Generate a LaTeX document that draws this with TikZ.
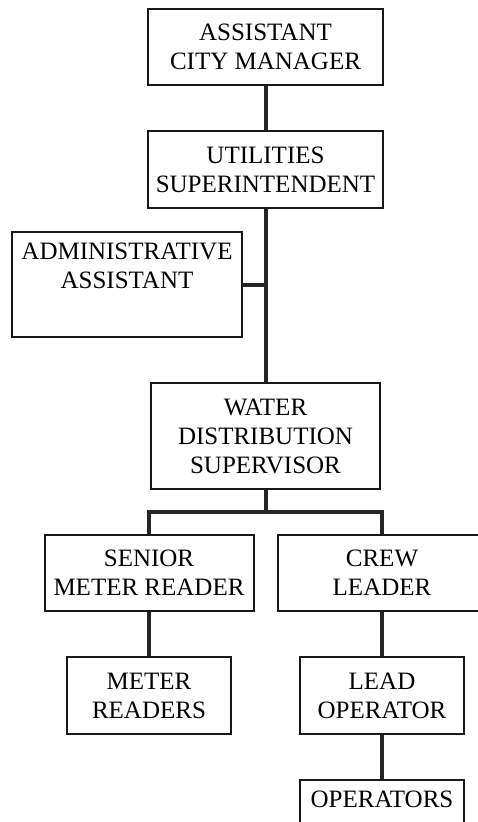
\documentclass[tikz,border=0pt]{standalone}
\usepackage{fontspec}
\setmainfont{Liberation Serif}
\begin{document}
\begin{tikzpicture}[x=1pt,y=-1pt,
  post/.style={draw=black!90,line width=2pt,align=center,inner sep=0pt,
    font=\fontsize{25}{29}\selectfont},
  link/.style={draw=black!85,line width=4pt}]
\useasboundingbox (0,0) rectangle (478,822);
\clip (0,0) rectangle (478,822);

% positions
\node[post,minimum width=235pt,minimum height=76pt] (acm) at (265.5,47) {ASSISTANT\\CITY MANAGER};
\node[post,minimum width=235pt,minimum height=77pt] (us) at (265.5,169.5) {UTILITIES\\SUPERINTENDENT};
\node[post,minimum width=230pt,minimum height=105pt] (adm) at (127,284.5) {ADMINISTRATIVE\\ASSISTANT\\\strut};
\node[post,minimum width=229pt,minimum height=106pt] (wds) at (265.5,436) {WATER\\DISTRIBUTION\\SUPERVISOR};
\node[post,minimum width=209pt,minimum height=76pt] (smr) at (149,573) {SENIOR\\METER READER};
\node[post,minimum width=208pt,minimum height=76pt] (cl) at (382,573) {CREW\\LEADER};
\node[post,minimum width=164pt,minimum height=77pt] (mr) at (149,695.5) {METER\\READERS};
\node[post,minimum width=164pt,minimum height=77pt] (lo) at (382,695.5) {LEAD\\OPERATOR};
\node[post,minimum width=164pt,minimum height=77pt] (ops) at (382,818.5) {OPERATORS\\\strut};

\coordinate (bus) at (265.5,512);

% connectors
\draw[link] (acm.south) -- (us.north);
\draw[link] (us.south) -- (wds.north);
\draw[link] (adm.east) -- (adm.east -| us.south);
\draw[link] (wds.south) -- (bus);
\draw[link] (smr.north) |- (bus) -| (cl.north);
\draw[link] (smr.south) -- (mr.north);
\draw[link] (cl.south) -- (lo.north);
\draw[link] (lo.south) -- (ops.north);
\end{tikzpicture}
\end{document}
